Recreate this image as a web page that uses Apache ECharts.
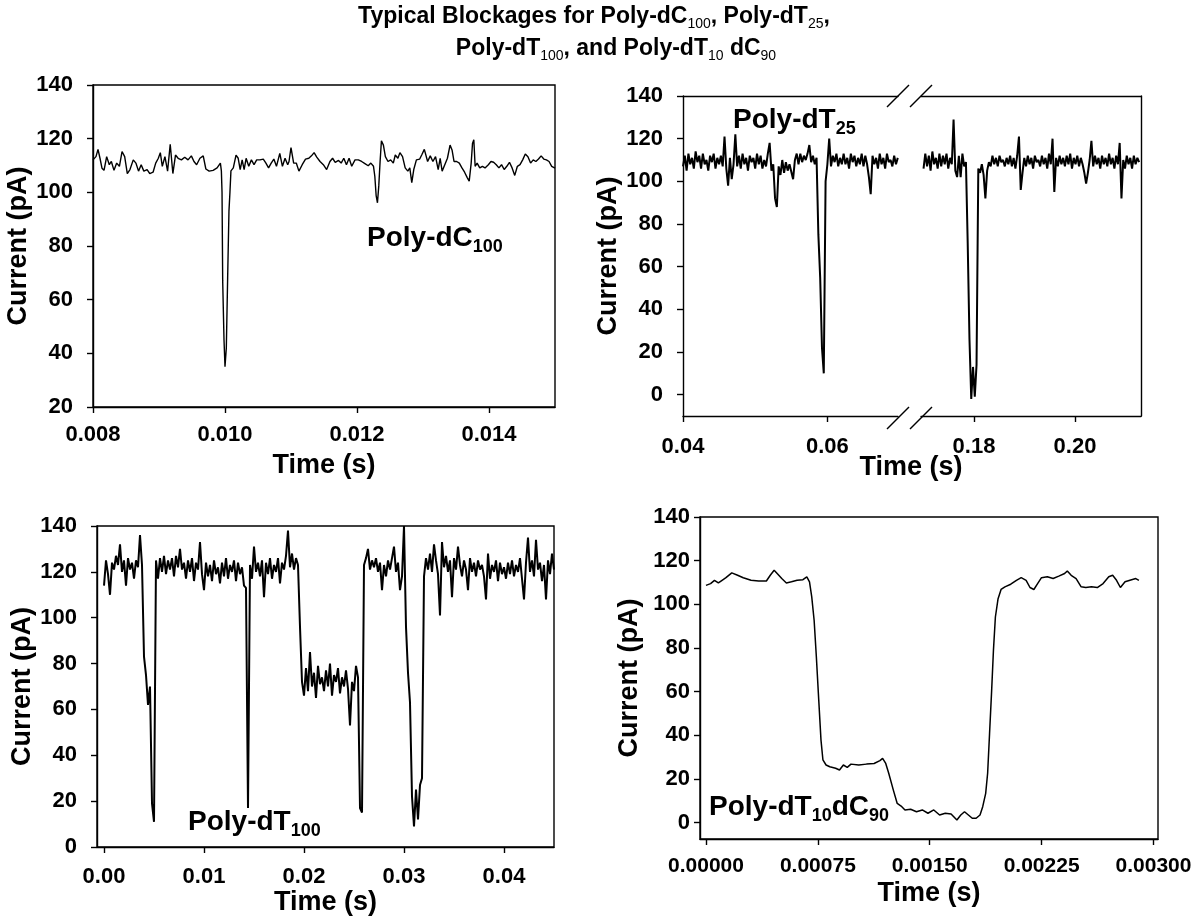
<!DOCTYPE html>
<html>
<head>
<meta charset="utf-8">
<script src="https://cdn.jsdelivr.net/npm/echarts@6/dist/echarts.min.js"></script>
<style>
  html, body { margin: 0; padding: 0; background: #fff; }
  #chart { width: 1193px; height: 917px; }
</style>
</head>
<body>
<div id="chart"></div>
<script>
// Poly-dC100 (top left): time in s, current in pA
const dC100Time = [
  0.008, 0.008045, 0.008076, 0.008106, 0.008136, 0.008167, 0.008207, 0.008247, 0.008278, 0.008318,
  0.008359, 0.0084, 0.00844, 0.00848, 0.00852, 0.00856, 0.00861, 0.00865, 0.00869, 0.00873,
  0.00877, 0.00882, 0.00886, 0.00891, 0.00895, 0.00899, 0.00902, 0.00905, 0.00909, 0.00913,
  0.00917, 0.00921, 0.00925, 0.00929, 0.00934, 0.00939, 0.00944, 0.00949, 0.00953, 0.00957,
  0.00962, 0.00967, 0.00971, 0.00976, 0.00982, 0.00988, 0.00993, 0.009945, 0.009955, 0.009965,
  0.009985, 0.01, 0.01002, 0.01004, 0.01006, 0.010075, 0.01009, 0.010126, 0.010167, 0.0102,
  0.01023, 0.01026, 0.01029, 0.01032, 0.01036, 0.0104, 0.01044, 0.01048, 0.01053, 0.01058,
  0.01062, 0.01066, 0.0107, 0.01074, 0.01078, 0.01083, 0.01087, 0.01091, 0.01095, 0.01097,
  0.011, 0.01104, 0.01108, 0.01112, 0.01117, 0.01122, 0.01127, 0.01131, 0.01135, 0.01139,
  0.01144, 0.01149, 0.01154, 0.01159, 0.01163, 0.01167, 0.01172, 0.01176, 0.0118, 0.01184,
  0.01188, 0.01192, 0.01197, 0.01202, 0.01207, 0.01212, 0.01217, 0.01221, 0.01225, 0.01227,
  0.01229, 0.01231, 0.01233, 0.01235, 0.01237, 0.0124, 0.01243, 0.01247, 0.01251, 0.01255,
  0.01258, 0.01262, 0.01265, 0.01269, 0.01273, 0.01277, 0.0128, 0.01283, 0.01286, 0.0129,
  0.01295, 0.01298, 0.01302, 0.01307, 0.01311, 0.01315, 0.01319, 0.01323, 0.01326, 0.01329,
  0.01333, 0.01337, 0.01341, 0.01344, 0.01347, 0.01351, 0.01355, 0.01359, 0.01363, 0.01367,
  0.0137, 0.01373, 0.01375, 0.01377, 0.01379, 0.01382, 0.01386, 0.0139, 0.01394, 0.01399,
  0.01403, 0.01407, 0.01411, 0.01415, 0.01419, 0.01423, 0.01427, 0.01431, 0.01435, 0.01439,
  0.01443, 0.01447, 0.01451, 0.01455, 0.01459, 0.01463, 0.01467, 0.01471, 0.01475, 0.01479,
  0.01483, 0.01487, 0.01491, 0.01495, 0.015
];
const dC100Current = [
  112.1, 113.3, 116, 112.7, 109, 108.2, 113.3, 110.3, 111.5, 108.2,
  110.9, 109.7, 115.2, 113.3, 107, 108.5, 112.1, 110.9, 107.9, 110.3,
  107.9, 108.5, 107, 107.5, 110.9, 112.7, 114.8, 109.7, 113.3, 107.9,
  117.9, 107, 113.9, 112.7, 112.1, 113.1, 112.1, 113.6, 111.5, 110.3,
  112.7, 113.6, 108.7, 107.9, 108.2, 109.1, 110.9, 108, 100, 67,
  45, 35, 42, 68, 93, 100, 108, 109.1, 113.9, 112.7,
  108.5, 112.1, 108.5, 112.7, 109.7, 112.1, 110.3, 112.1, 112.1, 112.4,
  110.9, 109.1, 110.9, 112.4, 109.7, 114.5, 109.7, 112.7, 110.3, 111.5,
  116.7, 110.9, 110.9, 107.9, 110.3, 112.4, 112.7, 113.6, 114.8, 113.1,
  111.5, 110.3, 108.5, 111.5, 112.7, 111.2, 111.9, 110.9, 112.7, 110.3,
  112.7, 109.7, 112.1, 112.1, 111.5, 110.7, 109.9, 110.9, 109.7, 106,
  98.8, 96.1, 102.4, 111.5, 119.2, 117.6, 113.3, 111.5, 112.1, 110.9,
  113.9, 112.7, 114.8, 113.3, 109.1, 107.9, 109.1, 103.6, 108.5, 112.1,
  112.4, 113.9, 116, 111.5, 113.6, 111.5, 113.3, 108.5, 112.7, 107.9,
  110.3, 112.7, 117.6, 115.8, 111.5, 111.5, 110.9, 109.1, 107.5, 105.5,
  104.2, 110.9, 118.2, 119.6, 109.7, 110.9, 109.1, 109.7, 109.1, 110.3,
  111.5, 111.2, 110.3, 109.1, 110.3, 108.5, 109.7, 111.2, 109.1, 106.3,
  109.7, 110.3, 112.1, 114.3, 113.3, 110.9, 112.1, 111.5, 112.4, 113.6,
  112.4, 112.1, 111.5, 109.7, 109
];

// Poly-dT25 (top right), recorded on a fixed sampling step, two windows either side of the axis break
const dT25EarlyStart = 0.04;
const dT25EarlyStep = 0.00025;
const dT25EarlyCurrent = [
  107, 112, 105, 113, 108, 111, 106, 114, 109, 112,
  106, 113, 108, 110, 105, 112, 109, 113, 106, 111,
  108, 112, 107, 121, 106, 98, 111, 101, 108, 122,
  107, 112, 106, 113, 108, 111, 105, 112, 109, 111,
  106, 113, 108, 112, 106, 110, 107, 113, 118, 105,
  108, 92, 88, 107, 103, 110, 104, 109, 105, 108,
  108, 101, 110, 113, 108, 113, 109, 112, 110, 113,
  117, 109, 112, 108, 111, 75, 55, 22, 10, 100,
  108, 120, 107, 112, 109, 113, 107, 111, 108, 113,
  108, 111, 106, 113, 109, 112, 107, 111, 108, 113,
  107, 112, 108, 102, 94, 112, 108, 111, 106, 113,
  108, 111, 106, 113, 109, 110, 107, 112, 108, 111
];
const dT25LateStart = 0.17;
const dT25LateStep = 0.00035;
const dT25LateCurrent = [
  106, 113, 107, 112, 105, 114, 108, 111, 106, 113,
  107, 112, 108, 113, 106, 111, 108, 129, 105, 102,
  112, 102, 113, 107, 109, 71, 26, -2, 13, -1,
  14, 106, 104, 108, 103, 92, 105, 109, 107, 112,
  108, 111, 107, 112, 109, 110, 107, 111, 108, 112,
  107, 111, 106, 112, 121, 96, 104, 111, 107, 112,
  108, 111, 106, 112, 109, 110, 107, 112, 108, 111,
  106, 113, 108, 120, 95, 111, 107, 112, 108, 111,
  107, 112, 108, 113, 106, 111, 108, 112, 107, 111,
  108, 104, 99, 104, 110, 119, 107, 112, 108, 111,
  106, 112, 108, 111, 107, 113, 108, 111, 106, 112,
  108, 118, 92, 110, 106, 112, 108, 111, 106, 112,
  108, 111, 109
];

// Poly-dT100 (bottom left)
const dT100Start = 0;
const dT100Step = 0.0002;
const dT100Current = [
  114, 125, 119, 110, 124, 121, 127, 123, 132, 120,
  125, 114, 126, 121, 124, 117, 125, 122, 136, 123,
  83, 75, 62, 70, 19, 11, 125, 117, 126, 120,
  127, 119, 125, 121, 126, 118, 127, 122, 130, 121,
  124, 117, 125, 120, 126, 116, 124, 121, 133, 119,
  112, 124, 118, 123, 116, 125, 119, 122, 115, 124,
  118, 126, 117, 123, 120, 125, 116, 124, 119, 122,
  114, 113, 17, 123, 117, 131, 120, 124, 118, 125,
  109, 124, 119, 126, 117, 123, 120, 126, 115, 124,
  121, 127, 138, 122, 128, 121, 126, 123, 96, 72,
  66, 78, 68, 85, 70, 76, 65, 79, 71, 74,
  68, 77, 70, 80, 66, 75, 72, 78, 67, 74,
  70, 77, 69, 53, 72, 68, 79, 74, 17, 15,
  123, 126, 130, 121, 125, 122, 126, 120, 124, 112,
  123, 118, 125, 121, 126, 131, 120, 124, 112, 118,
  140, 96, 76, 63, 22, 9, 25, 12, 27, 30,
  118, 126, 121, 128, 120, 132, 125, 119, 101, 133,
  122, 127, 120, 125, 109, 126, 121, 131, 123, 118,
  125, 121, 112, 126, 120, 124, 118, 125, 121, 123,
  118, 108, 128, 117, 123, 120, 125, 116, 124, 119,
  122, 117, 124, 119, 125, 118, 123, 120, 126, 117,
  108, 124, 135, 120, 125, 118, 134, 121, 124, 116,
  123, 108, 125, 119, 128, 121
];

// Poly-dT10dC90 (bottom right)
const dT10dC90Time = [
  0, 0.000031, 0.000057, 0.000083, 0.000108, 0.000134, 0.000173, 0.000212, 0.00025, 0.000302,
  0.000353, 0.000405, 0.000431, 0.000457, 0.000482, 0.000508, 0.000539, 0.000573, 0.000611, 0.00065,
  0.000676, 0.000694, 0.000709, 0.000725, 0.00074, 0.000756, 0.000771, 0.000784, 0.000805, 0.00083,
  0.000869, 0.000895, 0.000921, 0.000947, 0.000972, 0.001024, 0.001076, 0.001127, 0.001166, 0.001184,
  0.001205, 0.001225, 0.001256, 0.001282, 0.001308, 0.001334, 0.001372, 0.001411, 0.00145, 0.001488,
  0.001527, 0.001566, 0.001604, 0.001643, 0.001682, 0.001708, 0.001733, 0.001759, 0.001785, 0.001811,
  0.001837, 0.001855, 0.001875, 0.001888, 0.001901, 0.001914, 0.001927, 0.00194, 0.001958, 0.001978,
  0.002004, 0.002043, 0.002081, 0.002113, 0.002146, 0.002172, 0.002198, 0.002223, 0.002249, 0.002288,
  0.002327, 0.002365, 0.002404, 0.002422, 0.002448, 0.002481, 0.002515, 0.002546, 0.002584, 0.002623,
  0.002662, 0.0027, 0.002726, 0.002752, 0.002778, 0.002809, 0.002842, 0.002881, 0.002902
];
const dT10dC90Current = [
  108.7, 109.5, 111, 109.8, 111, 112.2, 114.4, 113.3, 112.2, 111,
  110.7, 110.7, 113.3, 115.6, 113.8, 111.8, 109.8, 110.3, 111, 111.3,
  112.6, 110.3, 103.4, 92.7, 75.9, 56.1, 37.8, 28.7, 26.4, 25.6,
  24.9, 24.1, 26.4, 25.3, 26.8, 26.4, 26.8, 27.1, 28.4, 29.4,
  27.1, 22.6, 14.9, 8.8, 7.6, 5.8, 6.1, 5, 5.8, 4.3,
  5.8, 3.5, 4.3, 4, 1.2, 3.5, 5, 3.5, 2, 2,
  3.5, 7.3, 13.4, 22.6, 40.9, 59.2, 79, 94.2, 102.6, 106.8,
  108, 109.2, 111, 112.2, 111, 107.7, 106.8, 109.5, 112.2, 112.6,
  111.8, 112.9, 114.1, 115.3, 113.3, 111.8, 108, 107.7, 108, 107.7,
  109.5, 112.6, 113.3, 111, 107.7, 110.3, 111, 111.8, 111
];

// tick labels
const currentTicks = [0, 20, 40, 60, 80, 100, 120, 140];
const dC100TimeTicks = [0.008, 0.010, 0.012, 0.014];
const dT25EarlyTicks = [0.04, 0.06];
const dT25LateTicks = [0.18, 0.20];
const dT100TimeTicks = [0, 0.01, 0.02, 0.03, 0.04];
const dT10dC90TimeTicks = [0, 0.00075, 0.0015, 0.00225, 0.003];

const BLACK = "#000";
const FONT = '"Liberation Sans", Arial, sans-serif';
const LINE = { color: BLACK, width: 1.4 };

function zip(xs, ys) {
  return xs.map((x, i) => [x, ys[i]]);
}

function sampled(start, step, values) {
  return values.map((v, i) => [start + i * step, v]);
}

function labels(values, digits, margin, size = 22) {
  return {
    customValues: values,
    margin,
    color: BLACK,
    fontFamily: FONT,
    fontWeight: "bold",
    fontSize: size,
    formatter: (v) => v.toFixed(digits),
  };
}

const nameStyle = { color: BLACK, fontFamily: FONT, fontWeight: "bold", fontSize: 27 };

function xAxis(grid, min, max, ticks, digits, margin, name, nameGap, size) {
  return {
    type: "value", gridIndex: grid, position: "bottom", min, max,
    axisLine: { onZero: false, lineStyle: LINE },
    axisTick: { customValues: ticks, length: 6, lineStyle: LINE },
    axisLabel: labels(ticks, digits, margin, size),
    splitLine: { show: false },
    name, nameLocation: "middle", nameGap, nameTextStyle: nameStyle,
  };
}

function yAxis(grid, min, max, margin, name, nameGap) {
  return {
    type: "value", gridIndex: grid, position: "left", min, max,
    axisLine: { onZero: false, lineStyle: LINE },
    axisTick: { customValues: currentTicks, length: 6, lineStyle: LINE },
    axisLabel: labels(currentTicks, 0, margin),
    splitLine: { show: false },
    name, nameLocation: "middle", nameGap, nameTextStyle: nameStyle,
  };
}

// bare border line for the split panel
function edge(grid, position, min, max) {
  return {
    type: "value", gridIndex: grid, position, min, max,
    axisLine: { onZero: false, lineStyle: LINE },
    axisTick: { show: false }, axisLabel: { show: false }, splitLine: { show: false },
  };
}

function trace(xi, yi, data, width) {
  return {
    type: "line", xAxisIndex: xi, yAxisIndex: yi, data,
    showSymbol: false, symbol: "none", silent: true,
    lineStyle: { color: BLACK, width },
  };
}

const subRich = {
  m: { fontSize: 28, fontFamily: FONT, fontWeight: "bold", fill: BLACK, lineHeight: 36, verticalAlign: "middle" },
  s: { fontSize: 18, fontFamily: FONT, fontWeight: "bold", fill: BLACK, lineHeight: 18, verticalAlign: "bottom" },
};
const titleRich = {
  m: { fontSize: 23, fontFamily: FONT, fontWeight: "bold", fill: BLACK, lineHeight: 28, verticalAlign: "middle" },
  s: { fontSize: 14, fontFamily: FONT, fill: BLACK, lineHeight: 14, verticalAlign: "bottom" },
};

function label(text, x, y, rich, align = "left") {
  return { type: "text", x, y, silent: true, style: { text, rich, align, verticalAlign: "middle" } };
}

function slash(x, y) {
  return { type: "line", silent: true, shape: { x1: x, y1: y + 11, x2: x + 22, y2: y - 11 }, style: { stroke: BLACK, lineWidth: 1.4 } };
}

const box = { show: true, borderColor: BLACK, borderWidth: 1.4, outerBoundsMode: "none" };

const chart = echarts.init(document.querySelector("#chart"));
chart.setOption({
  animation: false,
  backgroundColor: "#fff",
  grid: [
    { left: 93, top: 85, width: 462, height: 322, ...box },
    { left: 683, top: 96, width: 215, height: 320, outerBoundsMode: "none" },
    { left: 921, top: 96, width: 220, height: 320, outerBoundsMode: "none" },
    { left: 97, top: 526, width: 457, height: 321, ...box },
    { left: 700, top: 517, width: 458, height: 322, ...box },
  ],
  xAxis: [
    xAxis(0, 0.008, 0.015, dC100TimeTicks, 3, 17, "Time (s)", 45),
    xAxis(1, 0.04, 0.06978, dT25EarlyTicks, 2, 20),
    edge(1, "top", 0.04, 0.06978),
    xAxis(2, 0.1695, 0.21307, dT25LateTicks, 2, 20),
    edge(2, "top", 0.1695, 0.21307),
    xAxis(3, -0.0007, 0.045, dT100TimeTicks, 2, 19, "Time (s)", 32),
    xAxis(4, -0.00004, 0.00303, dT10dC90TimeTicks, 5, 17, "Time (s)", 41, 21),
  ],
  yAxis: [
    yAxis(0, 20, 140, 20, "Current (pA)", 38),
    yAxis(1, -10, 140, 20, "Current (pA)", 34),
    edge(2, "right", -10, 140),
    yAxis(3, 0, 140, 20, "Current (pA)", 44),
    yAxis(4, -7.5, 140, 10, "Current (pA)", 57),
  ],
  series: [
    trace(0, 0, zip(dC100Time, dC100Current), 1.4),
    trace(1, 1, sampled(dT25EarlyStart, dT25EarlyStep, dT25EarlyCurrent), 2),
    trace(3, 2, sampled(dT25LateStart, dT25LateStep, dT25LateCurrent), 2),
    trace(5, 3, sampled(dT100Start, dT100Step, dT100Current), 2),
    trace(6, 4, zip(dT10dC90Time, dT10dC90Current), 1.5),
  ],
  graphic: [
    label("{m|Typical Blockages for Poly-dC}{s|100}{m|, Poly-dT}{s|25}{m|,}", 594, 17, titleRich, "center"),
    label("{m|Poly-dT}{s|100}{m|, and Poly-dT}{s|10}{m| dC}{s|90}", 616, 49, titleRich, "center"),
    label("{m|Poly-dC}{s|100}", 367, 238, subRich),
    label("{m|Poly-dT}{s|25}", 733, 120, subRich),
    label("{m|Poly-dT}{s|100}", 188, 822, subRich),
    label("{m|Poly-dT}{s|10}{m|dC}{s|90}", 709, 807, subRich),
    { type: "text", x: 911, y: 454, silent: true, style: { text: "Time (s)", fill: BLACK, font: 'bold 27px "Liberation Sans", Arial, sans-serif', align: "center", verticalAlign: "top" } },
    slash(887, 96), slash(910, 96),
    slash(887, 418), slash(910, 418),
  ],
});
</script>
</body>
</html>
